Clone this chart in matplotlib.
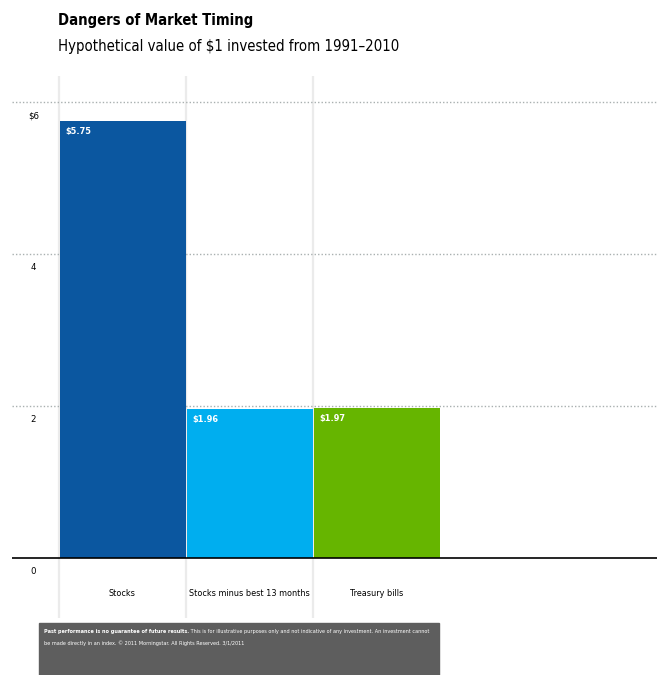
import matplotlib.pyplot as plt
from matplotlib.patches import Rectangle

# Data
categories = ['Stocks', 'Stocks minus best 13 months', 'Treasury bills']
values = [5.75, 1.96, 1.97]
value_labels = ['$5.75', '$1.96', '$1.97']
colors = ['#0b57a0', '#00aeef', '#66b500']
y_ticks = [0, 2, 4, 6]
y_tick_labels = ['0', '2', '4', '$6']

TITLE = 'Dangers of Market Timing'
SUBTITLE = 'Hypothetical value of $1 invested from 1991\u20132010'
NOTE_BOLD = 'Past performance is no guarantee of future results.'
NOTE_LINE1 = ' This is for illustrative purposes only and not indicative of any investment. An investment cannot'
NOTE_LINE2 = 'be made directly in an index. \u00a9 2011 Morningstar. All Rights Reserved. 3/1/2011'

# no Arial Narrow here, DejaVu Sans Condensed is the closest thing
plt.rcParams['font.family'] = ['DejaVu Sans']
plt.rcParams['font.stretch'] = 'condensed'

W, H = 657, 675
fig = plt.figure(figsize=(W / 100, H / 100), dpi=100)

# axes spans px x 12..657, y 76..618
ax = fig.add_axes([12 / W, 1 - 618 / H, 645 / W, 542 / H])
px_per_unit = 127.0
x_first = 58.7
ppy = (558 - 102) / 6.0
ax.set_xlim((12 - x_first) / px_per_unit, (657 - x_first) / px_per_unit)
ax.set_ylim(-(618 - 558) / ppy, (558 - 76) / ppy)
ax.axis('off')

# vertical separators
for i in range(len(categories)):
    ax.axvline(i, color='#ebebeb', lw=1.6, zorder=0)

# dotted gridlines
for t in y_ticks[1:]:
    ax.axhline(t, color='#a9b0b0', lw=1, ls=(0, (1, 1.5)), zorder=0)

gap = 1.2 / px_per_unit
bars = ax.bar([i + gap for i in range(len(categories))], values, width=1 - gap,
              align='edge', color=colors, zorder=2)

ax.axhline(0, color='black', lw=1.2, zorder=3)

for b, lab in zip(bars, value_labels):
    ax.text(b.get_x() + 5 / px_per_unit, b.get_height() - 6 / ppy, lab,
            color='white', fontsize=6.6, fontweight='bold', ha='left', va='top', zorder=4)

for t, lab in zip(y_ticks, y_tick_labels):
    ax.text(-0.2, t - 9 / ppy, lab, fontsize=6.8, ha='center', va='top')

for i, c in enumerate(categories):
    ax.text(i + 0.5, -35 / ppy, c, fontsize=6.5, ha='center', va='center')

# titles
fig.text(58 / W, 1 - 21 / H, TITLE, fontsize=10.6, fontweight='bold', va='center')
fig.text(58 / W, 1 - 46 / H, SUBTITLE, fontsize=10.7, va='center')

# footer box
fig.patches.append(Rectangle((39 / W, 0), 400 / W, 52 / H, transform=fig.transFigure,
                             color='#5e5e5e', zorder=0))
fs_note = 4.0
t1 = fig.text(44 / W, 1 - 632 / H, NOTE_BOLD, fontsize=fs_note, fontweight='bold',
              color='white', va='center')
fig.canvas.draw()
bb = t1.get_window_extent()
fig.text(bb.x1 / W, 1 - 632 / H, NOTE_LINE1, fontsize=fs_note, color='white', va='center')
fig.text(44 / W, 1 - 643 / H, NOTE_LINE2, fontsize=fs_note, color='white', va='center')

fig.savefig('out.png', dpi=100)
